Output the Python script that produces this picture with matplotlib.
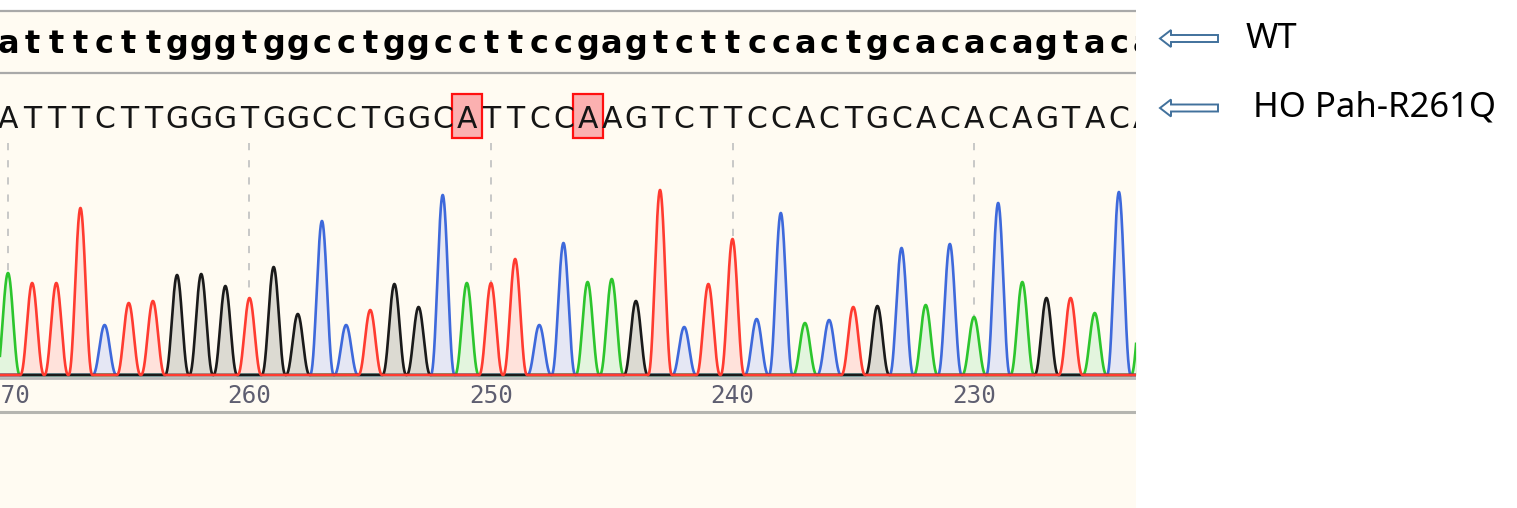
import numpy as np
import matplotlib.pyplot as plt
from matplotlib.patches import Rectangle, FancyArrow

# Sequences (reverse strand, base 1 = position 270)
wt_seq = "atttcttgggtggcctggccttccgagtcttccactgcacacagtaca"
mut_seq = "ATTTCTTGGGTGGCCTGGCATTCCAAGTCTTCCACTGCACACAGTACA"
mut_bases = [20, 25]

# peak height of each called base (same order as mut_seq)
peak_heights = [102, 92, 92, 167, 50, 72, 74, 100, 101, 89,
                77, 108, 61, 154, 50, 65, 91, 68, 180, 92,
                92, 116, 50, 132, 93, 96, 74, 185, 48, 91,
                136, 56, 162, 52, 55, 68, 69, 127, 70, 131,
                58, 172, 93, 77, 77, 62, 183, 100]

tick_bases = [1, 11, 21, 31, 41]
tick_labels = ["270", "260", "250", "240", "230"]

row_labels = ["WT", "HO Pah-R261Q"]

# line colour, fill colour per channel
channels = {
    "A": ("#2DC52D", "#E3F5DE"),
    "C": ("#3E69DB", "#E5E7F4"),
    "G": ("#1A1A1A", "#DCDAD2"),
    "T": ("#FF3B30", "#FFE2DB"),
}

W, H = 1517, 508
PX_BASE = 24.15      # pixels per base
FIRST_PX = 8         # pixel centre of base 1
PANEL_R = 1136       # right edge of the trace panel

x0 = 1 - FIRST_PX / PX_BASE
x1 = 1 + (PANEL_R - FIRST_PX) / PX_BASE
pw = PANEL_R / W

fig = plt.figure(figsize=(W / 100, H / 100), dpi=100)
fig.patch.set_facecolor("white")

# Panel: x in bases, y in pixels from top
panel = fig.add_axes([0, 0, pw, 1])
panel.set_xlim(x0, x1)
panel.set_ylim(H, 0)
panel.axis("off")
panel.add_patch(Rectangle((x0, 11), x1 - x0, H - 11, fc="#FFFBF2", ec="none", zorder=0))

for y, lw, c in [(11, 1.6, "#A9A9A9"), (73, 1.6, "#A9A9A9"),
                 (378, 2.0, "#B8B8B8"), (412, 2.2, "#B5B5B0")]:
    panel.axhline(y, color=c, lw=lw, zorder=1)

panel.vlines(tick_bases, 143, 376, colors="#C4C4C4", lw=1.3,
             linestyles=(0, (4, 5.5)), zorder=1)

# "270" is cut at the left edge, as in the source screenshot
for b, lab in zip(tick_bases, tick_labels):
    panel.text(b, 396, lab, ha="center", va="center", family="DejaVu Sans Mono",
               fontsize=17.5, color="#5E5E70", clip_on=True)

for b in mut_bases:
    panel.add_patch(Rectangle((b - 0.62, 94), 1.24, 44, fc="#FBB0B0",
                              ec="#FF1010", lw=1.6, zorder=2))

for i, (w, m) in enumerate(zip(wt_seq, mut_seq), start=1):
    panel.text(i, 53, w, ha="center", va="baseline", fontsize=23,
               weight="bold", color="black", clip_on=True, zorder=3)
    panel.text(i, 128, m, ha="center", va="baseline", fontsize=21.5,
               color="#151515", clip_on=True, zorder=3)

# Trace axes: baseline (0) sits at pixel row 375
tr = fig.add_axes([0, (H - 381) / H, pw, (381 - 140) / H])
tr.set_xlim(x0, x1)
tr.set_ylim(-6, 235)
tr.axis("off")
tr.patch.set_alpha(0)

# each peak drawn as a bump that returns to baseline half a base away
xs = np.linspace(x0 - 1, x1 + 1, 6000)
half_w = 0.5
traces = {}
for base in "ACGT":
    y = np.zeros_like(xs)
    for i, (m, h) in enumerate(zip(mut_seq, peak_heights), start=1):
        if m == base:
            d = np.clip(np.abs(xs - i) / half_w, 0, 1)
            y += h * np.cos(d * np.pi / 2) ** 2.4
    traces[base] = y

for base in "ACGT":
    tr.fill_between(xs, 0, traces[base], color=channels[base][1], lw=0, zorder=1)
for base in "ACGT":
    tr.plot(xs, traces[base], color=channels[base][0], lw=1.9, zorder=2)

# Row labels with hollow arrows
ov = fig.add_axes([0, 0, 1, 1])
ov.set_xlim(0, W)
ov.set_ylim(H, 0)
ov.axis("off")
ov.patch.set_alpha(0)

for y, lab, tx in zip([38.5, 108], row_labels, [1246, 1253]):
    ov.add_patch(FancyArrow(1218, y, -58, 0, width=7, head_width=17, head_length=11,
                            length_includes_head=True, fc="white", ec="#41719C", lw=1.4))
    ov.text(tx, y, lab, ha="left", va="center", family="Noto Sans",
            fontsize=25, color="black")

fig.savefig("out.png", dpi=100)
